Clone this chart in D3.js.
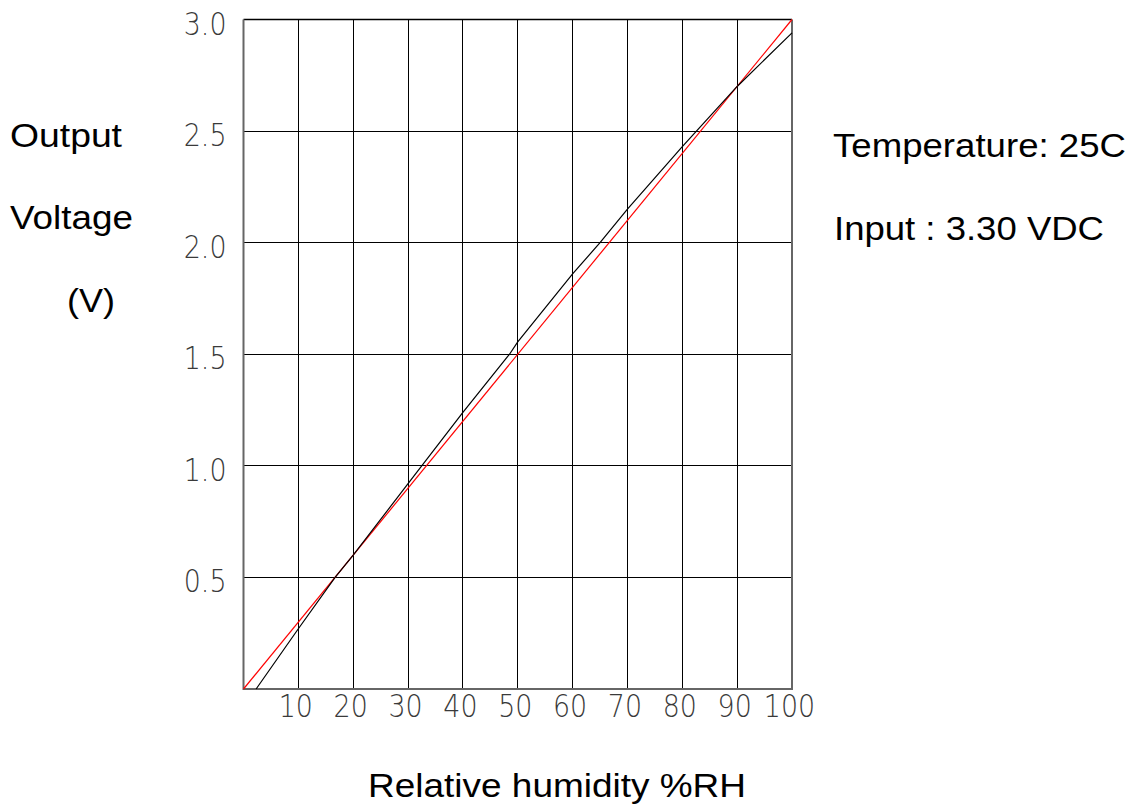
<!DOCTYPE html>
<meta charset="utf-8">
<style>
    body { margin: 0; background: #fff; }
    .tick text {
        font-family: "DejaVu Sans", sans-serif;
        font-weight: 200;
        font-size: 32px;
        fill: #3a3a3a;
    }
    .label {
        font-family: "Liberation Sans", Arial, sans-serif;
        font-size: 34px;
        fill: #000;
    }
    .grid line { stroke: #000; stroke-width: 1; shape-rendering: crispEdges; }
</style>
<body>
<div id="chart"></div>
<script src="https://d3js.org/d3.v7.min.js"></script>
<script>
    // measured sensor output (black curve)
    var humidity = [2.3, 10, 16.7, 20, 30, 40, 48.5, 50, 60, 65, 70, 80, 90, 100];
    var outputV  = [0, 0.27, 0.50, 0.60, 0.92, 1.24, 1.50, 1.555, 1.86, 2.0, 2.15, 2.43, 2.70, 2.94];

    // ideal linear response (red line)
    var idealH = [0, 100];
    var idealV = [0, 3.0];

    var xTicks = [10, 20, 30, 40, 50, 60, 70, 80, 90, 100];
    var yTicks = [0.5, 1.0, 1.5, 2.0, 2.5, 3.0];

    var width = 1139,
        height = 804,
        sx = 0.84; // squeeze for the narrow tick digits

    var svg = d3.select("#chart").append("svg")
        .attr("width", width)
        .attr("height", height);

    var x = d3.scaleLinear().domain([0, 100]).range([243.5, 792]);
    var y = d3.scaleLinear().domain([0, 3]).range([689, 19.5]);

    // grid
    var grid = svg.append("g").attr("class", "grid");
    grid.selectAll(".v")
        .data(xTicks.slice(0, -1))
        .enter().append("line")
        .attr("x1", function (d) { return x(d); })
        .attr("x2", function (d) { return x(d); })
        .attr("y1", y(0))
        .attr("y2", y(3));
    grid.selectAll(".h")
        .data(yTicks.slice(0, -1))
        .enter().append("line")
        .attr("x1", x(0))
        .attr("x2", x(100))
        .attr("y1", function (d) { return y(d); })
        .attr("y2", function (d) { return y(d); });

    // frame: top black, other sides grey and a bit heavier
    svg.append("line")
        .attr("x1", x(0)).attr("x2", x(100))
        .attr("y1", y(3)).attr("y2", y(3))
        .attr("stroke", "#000").attr("stroke-width", 1.5);
    svg.append("path")
        .attr("d", "M" + x(0) + "," + y(3) + "V" + y(0) + "H" + x(100) + "V" + y(3))
        .attr("fill", "none")
        .attr("stroke", "#666")
        .attr("stroke-width", 2);

    // axes (labels only)
    var xAxis = svg.append("g")
        .attr("transform", "translate(0," + y(0) + ")")
        .call(d3.axisBottom(x).tickValues(xTicks).tickSize(0));
    xAxis.select(".domain").remove();
    xAxis.selectAll("text")
        .attr("dy", null)
        .attr("y", 28)
        .attr("x", -3 / sx)
        .attr("transform", "scale(" + sx + ",1)");

    var yAxis = svg.append("g")
        .attr("transform", "translate(" + x(0) + ",0)")
        .call(d3.axisLeft(y).tickValues(yTicks).tickSize(0).tickFormat(d3.format(".1f")));
    yAxis.select(".domain").remove();
    yAxis.selectAll("text")
        .attr("dy", null)
        .attr("y", 14.5)
        .attr("x", -17 / sx)
        .attr("transform", "scale(" + sx + ",1)");

    // curves
    var line = d3.line()
        .x(function (d) { return x(d[0]); })
        .y(function (d) { return y(d[1]); });

    svg.append("path")
        .datum(d3.zip(idealH, idealV))
        .attr("d", line)
        .attr("fill", "none")
        .attr("stroke", "#ff0000")
        .attr("stroke-width", 1.2);

    svg.append("path")
        .datum(d3.zip(humidity, outputV))
        .attr("d", line)
        .attr("fill", "none")
        .attr("stroke", "#000")
        .attr("stroke-width", 1.2);

    // text labels
    function label(txt, px, py, len) {
        svg.append("text")
            .attr("class", "label")
            .attr("x", px)
            .attr("y", py)
            .attr("textLength", len)
            .attr("lengthAdjust", "spacingAndGlyphs")
            .text(txt);
    }
    label("Output", 10, 147, 112);
    label("Voltage", 10, 229, 123);
    label("(V)", 67, 312, 48);
    label("Relative humidity %RH", 368, 797, 378);
    label("Temperature: 25C", 833, 157, 293);
    label("Input : 3.30 VDC", 834, 240, 270);
</script>
</body>
